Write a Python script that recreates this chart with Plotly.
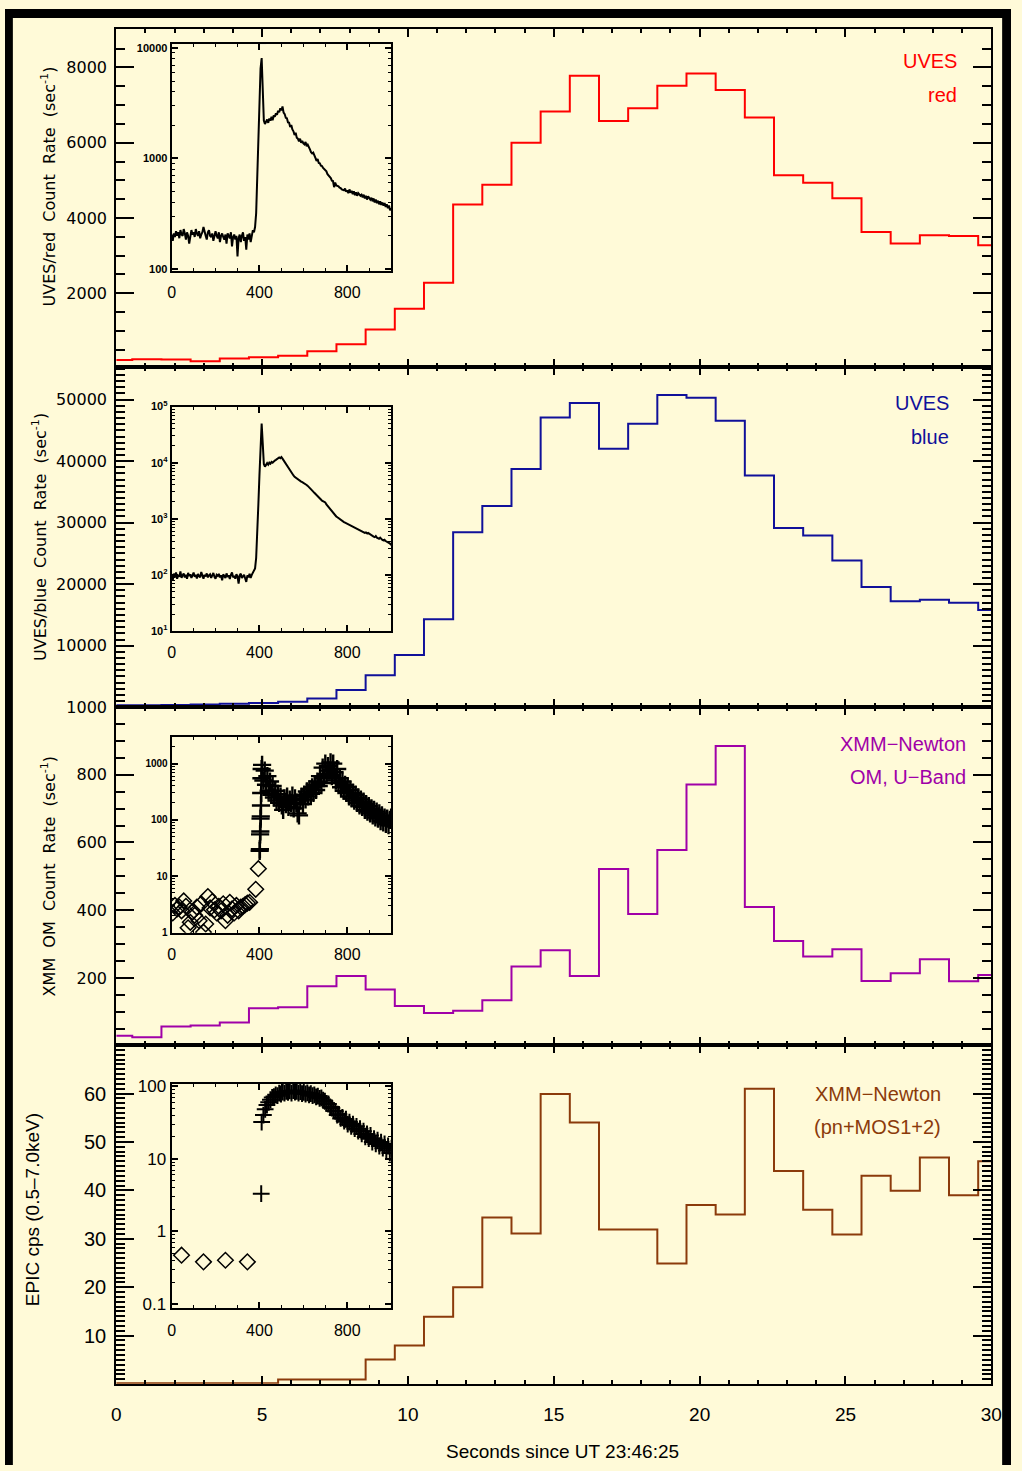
import plotly.graph_objects as go

W, H = 1022, 1471
BG = '#FFFAD8'
NARROW = '"Liberation Sans Narrow", "Arial Narrow", "Liberation Sans", Arial, sans-serif'
DEJAVU = '"DejaVu Sans", Verdana, sans-serif'
HELV = '"Liberation Sans", Arial, sans-serif'

# ---------------- main binned light curves (1 s bins) ----------------
BIN_EDGES = [0.0] + [0.55 + k for k in range(30)] + [30.0]

uves_red = [224, 250, 242, 197, 268, 303, 337, 461, 645, 1040, 1592, 2277, 4355, 4880,
            6000, 6830, 7778, 6575, 6918, 7514, 7838, 7400, 6672, 5137, 4935, 4522,
            3627, 3322, 3540, 3522, 3277]
uves_blue = [300, 320, 350, 420, 550, 700, 900, 1400, 2810, 5178, 8490, 14280, 28430,
             32720, 38720, 47080, 49450, 42000, 46070, 50730, 50300, 46550, 37660,
             29140, 27900, 23830, 19540, 17240, 17450, 16970, 15790]
om_u = [29.5, 24.6, 56.7, 59.6, 68.4, 110.4, 113.4, 175.6, 205.7, 166, 117, 96.7, 103.4,
        133.8, 234, 281.7, 205.7, 521.3, 389, 578, 770.8, 884.7, 409.4, 309, 263.3,
        284.7, 191, 213.6, 255.5, 190.2, 208.6]
epic = [0.15, 0.15, 0.15, 0.15, 0.15, 0.15, 0.96, 0.96, 0.96, 5.05, 7.98, 13.9, 20.0,
        34.4, 31.1, 59.9, 54.0, 31.9, 31.9, 24.9, 37.0, 35.0, 61.0, 44.0, 36.0, 30.9,
        43.0, 39.9, 46.8, 39.0, 46.0]

# ---------------- inset light curves (5 s sampling, 0..1000 s) ----------------
red_inset_base = [205, 180, 210, 195, 220, 200, 215, 190, 225, 205,
                  200, 230, 210, 185, 215, 200, 170, 210, 225, 205,
                  215, 195, 230, 210, 200, 220, 190, 205, 215, 240,
                  210, 200, 185, 215, 225, 200, 195, 210, 180, 205,
                  220, 200, 190, 215, 175, 200, 210, 195, 185, 205,
                  170, 210, 200, 190, 215, 160, 195, 205, 185, 200,
                  130, 190, 205, 175, 200, 215, 180, 195, 150, 205,
                  185, 210, 175, 200, 225, 215]
red_inset_flare = [240, 320, 650, 1500, 3500, 6500, 8100, 4600, 2200, 2050,
                   2150, 2250, 2100, 2300, 2200, 2380, 2220, 2450, 2380, 2560,
                   2480, 2700, 2620, 2850, 2720, 2950, 2600, 2520, 2330, 2310,
                   2120, 2110, 1930, 2010, 1830, 1760, 1630, 1710, 1540, 1510,
                   1430, 1510, 1390, 1440, 1370, 1340, 1410, 1290, 1330, 1240,
                   1210, 1140, 1110, 1130, 1040, 1010, 950, 990, 910, 905,
                   860, 855, 820, 805, 780, 765, 720, 705, 680, 665,
                   630, 625, 550, 605, 570, 565, 560, 545, 540, 525,
                   520, 515, 535, 500, 515, 485, 525, 490, 510, 475,
                   505, 465, 495, 460, 485, 465, 460, 470, 445, 470,
                   435, 460, 425, 455, 435, 425, 440, 410, 435, 400,
                   425, 395, 415, 385, 410, 380, 400, 375, 395, 365,
                   385, 355, 375, 340, 355]
blue_inset_base = [95, 80, 105, 90, 110, 85, 100, 92, 115, 88,
                   98, 105, 90, 100, 85, 108, 95, 102, 88, 96,
                   110, 92, 100, 86, 104, 95, 90, 112, 98, 85,
                   100, 94, 106, 90, 98, 102, 88, 95, 108, 92,
                   85, 100, 96, 104, 90, 98, 80, 102, 95, 88,
                   106, 92, 98, 84, 100, 110, 90, 96, 85, 102,
                   94, 70, 98, 105, 88, 92, 100, 86, 75, 98,
                   90, 104, 88, 100, 110, 120]
blue_inset_flare = [130, 200, 500, 1800, 6000, 25000, 50000, 22000, 9500, 8500,
                    9000, 9800, 9200, 10000, 9600, 10300, 10000, 10600, 10900, 11200,
                    11500, 11800, 12400, 12000, 12600, 11800, 11000, 10200, 9400, 8800,
                    8000, 7400, 6900, 6500, 6200, 5900, 5600, 5400, 5200, 5000,
                    4850, 4700, 4600, 4500, 4400, 4300, 4200, 4000, 3850, 3700,
                    3550, 3400, 3200, 3050, 2900, 2750, 2600, 2500, 2400, 2300,
                    2200, 2100, 2050, 1980, 1950, 1800, 1700, 1580, 1480, 1400,
                    1320, 1250, 1200, 1150, 1100, 1060, 1020, 990, 960, 930,
                    900, 870, 850, 830, 810, 790, 770, 750, 730, 720,
                    700, 690, 670, 660, 640, 630, 610, 600, 590, 580,
                    560, 570, 550, 560, 540, 530, 520, 500, 480, 470,
                    490, 460, 450, 440, 460, 430, 420, 410, 420, 400,
                    390, 380, 370, 360, 340]

# OM inset: pre-flare diamonds, flare pluses
om_dia_t = [5, 15, 25, 35, 45, 55, 65, 75, 85, 95, 105, 115, 125, 135, 145, 155, 165,
            175, 185, 195, 205, 215, 225, 235, 245, 255, 265, 275, 285, 295, 305, 315,
            325, 335, 345, 355, 383, 395]
om_dia_v = [2.2, 3.0, 2.6, 2.8, 2.4, 3.6, 2.9, 1.2, 1.5, 2.3, 2.0, 2.8, 1.6, 3.2, 1.0,
            1.4, 4.3, 2.7, 3.5, 2.5, 2.2, 2.9, 2.4, 3.2, 1.6, 2.0, 3.4, 2.6, 2.2, 3.0,
            2.4, 2.8, 2.9, 3.1, 3.3, 3.4, 5.8, 13.5]
om_rise_t = [401, 402, 403, 404, 405, 406, 407, 408, 409, 410]
om_rise_v = [28, 30, 55, 62, 105, 115, 180, 300, 550, 800]
om_cloud = [950, 500, 750, 420, 600, 330, 480, 280, 400, 250,
            330, 220, 290, 200, 260, 180, 150, 240, 190, 260,
            170, 230, 200, 270, 160, 240, 200, 130, 120, 220,
            260, 190, 280, 230, 320, 260, 350, 290, 380, 300,
            420, 340, 480, 400, 600, 450, 850, 550, 1000, 650,
            900, 750, 1050, 600, 1000, 700, 500, 800, 450, 550,
            380, 480, 330, 420, 300, 380, 260, 340, 240, 300,
            220, 280, 200, 250, 180, 230, 170, 210, 150, 190,
            140, 175, 130, 160, 120, 150, 110, 140, 105, 130,
            95, 120, 90, 110, 85, 105, 80, 100, 110]

# EPIC inset
epic_dia_t = [45, 145, 245, 345]
epic_dia_v = [0.47, 0.38, 0.40, 0.38]
epic_plus = [3.3, 32, 40, 48, 55, 60, 65, 70, 72, 76, 74, 80, 78, 83, 80, 85, 82, 86, 80,
             87, 83, 85, 80, 84, 79, 82, 78, 81, 76, 79, 74, 76, 71, 73, 68, 69, 64, 62,
             58, 57, 52, 50, 46, 45, 40, 41, 36, 37, 33, 35, 30, 32, 28, 30, 26, 28, 24,
             26, 22, 24, 20, 22, 19, 21, 17, 19, 16, 18, 15, 17, 14, 16, 13, 15, 12, 14]
epic_plus_t = [408] + [410 + 8 * i for i in range(len(epic_plus) - 1)]

FLARE_BAND = [395, 431]

# ---------------- helpers (page pixels -> paper fraction) ----------------
def px(x):
    return x / W

def py(y):
    return 1 - y / H

X_MAIN = [px(113), px(1002)]
PANELS = [(20, 362), (362, 705), (705, 1047), (1047, 1389)]
X_INSET = [px(169.3), px(392.3)]
INSETS = [(35.7, 264.3), (401.7, 628.3), (735.7, 933.3), (1085.7, 1312.7)]

COL_RED = '#FF0000'
COL_BLUE = '#10109A'
COL_PURP = '#A000A8'
COL_BROWN = '#8B3A0B'

fig = go.Figure()

series = [(uves_red, COL_RED), (uves_blue, COL_BLUE), (om_u, COL_PURP), (epic, COL_BROWN)]
for i, (vals, col) in enumerate(series):
    n = '' if i == 0 else str(i + 1)
    fig.add_trace(go.Scatter(x=BIN_EDGES, y=vals + [vals[-1]], mode='lines',
                             line=dict(color=col, width=2, shape='hv'),
                             xaxis='x' + n, yaxis='y' + n, showlegend=False))

t5 = [5 * i for i in range(201)]
fig.add_trace(go.Scatter(x=t5, y=red_inset_base + red_inset_flare, mode='lines',
                         line=dict(color='black', width=2), xaxis='x5', yaxis='y5',
                         showlegend=False))
fig.add_trace(go.Scatter(x=t5, y=blue_inset_base + blue_inset_flare, mode='lines',
                         line=dict(color='black', width=2), xaxis='x6', yaxis='y6',
                         showlegend=False))
fig.add_trace(go.Scatter(x=om_dia_t, y=om_dia_v, mode='markers',
                         marker=dict(symbol='diamond-open', size=12, color='black',
                                     line=dict(width=1.5, color='black')),
                         xaxis='x7', yaxis='y7', showlegend=False))
om_cloud_t = [412 + 6 * i for i in range(len(om_cloud))]
fig.add_trace(go.Scatter(x=om_rise_t + om_cloud_t, y=om_rise_v + om_cloud, mode='markers',
                         marker=dict(symbol='cross-thin', size=13, color='black',
                                     line=dict(width=2.4, color='black')),
                         xaxis='x7', yaxis='y7', showlegend=False))
fig.add_trace(go.Scatter(x=epic_dia_t, y=epic_dia_v, mode='markers',
                         marker=dict(symbol='diamond-open', size=12, color='black',
                                     line=dict(width=1.5, color='black')),
                         xaxis='x8', yaxis='y8', showlegend=False))
fig.add_trace(go.Scatter(x=epic_plus_t, y=epic_plus, mode='markers',
                         marker=dict(symbol='cross-thin', size=12, color='black',
                                     line=dict(width=2, color='black')),
                         xaxis='x8', yaxis='y8', showlegend=False))

layout = dict(width=W, height=H, autosize=False,
              margin=dict(l=0, r=0, t=0, b=0, pad=0),
              paper_bgcolor=BG, plot_bgcolor=BG,
              showlegend=False, hovermode=False)

def main_x(i, labels=False):
    d = dict(domain=X_MAIN, range=[0, 30], showline=True, linecolor='black', linewidth=2,
             mirror='ticks', ticks='inside', ticklen=8, tickwidth=1.5, tickcolor='black',
             tick0=0, dtick=5, showgrid=False, zeroline=False,
             minor=dict(ticks='inside', ticklen=4, tickwidth=1.5, tickcolor='black',
                        tick0=0, dtick=1, showgrid=False),
             showticklabels=labels, anchor='y' + ('' if i == 0 else str(i + 1)))
    if labels:
        d['tickfont'] = dict(family=NARROW, size=19, color='black')
        d['ticklabelstandoff'] = 12
        d['ticklabeloverflow'] = 'allow'
    return d

def main_y(i, rng, dtick, mdtick, font):
    top, bot = PANELS[i]
    return dict(domain=[py(bot), py(top)], range=rng, showline=True, linecolor='black',
                linewidth=2, mirror='ticks', ticks='inside', ticklen=18, tickwidth=1.5,
                tickcolor='black', tick0=0, dtick=dtick, showgrid=False, zeroline=False,
                tickformat='d', exponentformat='none',
                minor=dict(ticks='inside', ticklen=9, tickwidth=1.5, tickcolor='black',
                           tick0=0, dtick=mdtick, showgrid=False),
                tickfont=font, ticklabelstandoff=4,
                anchor='x' + ('' if i == 0 else str(i + 1)))

DJ = dict(family=DEJAVU, size=16, color='black')
NR = dict(family=NARROW, size=20, color='black')

layout['xaxis'] = main_x(0)
layout['xaxis2'] = main_x(1)
layout['xaxis3'] = main_x(2)
layout['xaxis4'] = main_x(3, labels=True)
layout['yaxis'] = main_y(0, [33, 9026], 2000, 500, DJ)
layout['yaxis2'] = main_y(1, [60, 55250], 10000, 1000, DJ)
layout['yaxis3'] = main_y(2, [1, 1000.5], 200, 50, DJ)
layout['yaxis4'] = main_y(3, [0.05, 69.95], 10, 1, NR)

def inset_x(k):
    return dict(domain=X_INSET, range=[0, 1000], showline=True, linecolor='black',
                linewidth=2, mirror='ticks', ticks='inside', ticklen=6, tickwidth=1.5,
                tickcolor='black', tick0=0, dtick=400, showgrid=False, zeroline=False,
                minor=dict(ticks='inside', ticklen=3, tickwidth=1.2, tickcolor='black',
                           tick0=0, dtick=100, showgrid=False),
                tickfont=dict(family=NARROW, size=16, color='black'),
                ticklabelstandoff=6, anchor='y' + str(k))

def minor_log(decades):
    out = []
    for d in decades:
        for m in range(2, 10):
            out.append(m * d)
    return out

def inset_y(k, idx, rng, tv, tt, mtv, font):
    top, bot = INSETS[idx]
    return dict(domain=[py(bot), py(top)], type='log', range=rng, showline=True,
                linecolor='black', linewidth=2, mirror='ticks', ticks='inside', ticklen=6,
                tickwidth=1.5, tickcolor='black', tickmode='array', tickvals=tv,
                ticktext=tt, showgrid=False, zeroline=False,
                minor=dict(ticks='inside', ticklen=3, tickwidth=1.2, tickcolor='black',
                           tickmode='array', tickvals=mtv, showgrid=False),
                tickfont=font, anchor='x' + str(k))

SMALLB = dict(family=HELV, size=11, color='black', weight='bold')
SMALLB10 = dict(family=HELV, size=10, color='black', weight='bold')

for k in range(5, 9):
    layout['xaxis' + str(k)] = inset_x(k)
layout['yaxis5'] = inset_y(5, 0, [1.986, 4.032], [100, 1000, 10000], ['100', '1000', '10000'],
                           minor_log([100, 1000]), SMALLB)
layout['yaxis6'] = inset_y(6, 1, [1, 5], [10, 100, 1000, 10000, 100000],
                           ['10<sup>1</sup>', '10<sup>2</sup>', '10<sup>3</sup>',
                            '10<sup>4</sup>', '10<sup>5</sup>'],
                           minor_log([10, 100, 1000, 10000]), SMALLB)
layout['yaxis7'] = inset_y(7, 2, [-0.01, 3.47], [1, 10, 100, 1000], ['1', '10', '100', '1000'],
                           minor_log([1, 10, 100, 1000]), SMALLB10)
layout['yaxis8'] = inset_y(8, 3, [-1.06, 2.035], [0.1, 1, 10, 100], ['0.1', '1', '10', '100'],
                           minor_log([0.1, 1, 10]), dict(family=NARROW, size=17, color='black'))

shapes = []
for k in range(5, 9):
    shapes.append(dict(type='rect', xref='x' + str(k), yref='y' + str(k) + ' domain',
                       x0=FLARE_BAND[0], x1=FLARE_BAND[1], y0=0, y1=1,
                       fillcolor='#D9D9D9', line=dict(width=0), layer='below'))
# black frame of the page
shapes += [
    dict(type='rect', xref='paper', yref='paper', x0=0, x1=1, y0=py(9), y1=1,
         fillcolor='black', line=dict(width=0), layer='above'),
    dict(type='rect', xref='paper', yref='paper', x0=0, x1=px(8), y0=0, y1=1,
         fillcolor='black', line=dict(width=0), layer='above'),
    dict(type='rect', xref='paper', yref='paper', x0=px(1013), x1=1, y0=0, y1=1,
         fillcolor='black', line=dict(width=0), layer='above'),
]
layout['shapes'] = shapes

ann = []
def note(text, x, y, font, xanchor='center', angle=0):
    ann.append(dict(text=text, x=px(x), y=py(y), xref='paper', yref='paper',
                    xanchor=xanchor, yanchor='middle', showarrow=False,
                    textangle=angle, font=font))

LEG = 20
note('UVES', 969, 53, dict(family=NARROW, size=LEG, color=COL_RED), 'right')
note('red', 969, 87, dict(family=NARROW, size=LEG, color=COL_RED), 'right')
note('UVES', 961, 398, dict(family=NARROW, size=LEG, color=COL_BLUE), 'right')
note('blue', 961, 432, dict(family=NARROW, size=LEG, color=COL_BLUE), 'right')
note('XMM\u2212Newton', 978, 743, dict(family=NARROW, size=LEG, color=COL_PURP), 'right')
note('OM, U\u2212Band', 978, 776, dict(family=NARROW, size=LEG, color=COL_PURP), 'right')
note('XMM\u2212Newton', 953, 1096, dict(family=NARROW, size=LEG, color=COL_BROWN), 'right')
note('(pn+MOS1+2)', 953, 1130, dict(family=NARROW, size=LEG, color=COL_BROWN), 'right')

SP = '\u00a0'
TF = dict(family=DEJAVU, size=16, color='black')
note('UVES/red' + SP + ' Count' + SP + ' Rate' + SP + ' (sec<sup>-1</sup>)', 44, 179, TF, angle=-90)
note('UVES/blue' + SP + ' Count' + SP + ' Rate' + SP + ' (sec<sup>-1</sup>)', 35, 533, TF, angle=-90)
note('XMM' + SP + ' OM' + SP + ' Count' + SP + ' Rate' + SP + ' (sec<sup>-1</sup>)', 44, 876, TF, angle=-90)
note('EPIC cps (0.5\u20137.0keV)', 28, 1213, dict(family=NARROW, size=19, color='black'),
     angle=-90)
note('Seconds since UT 23:46:25', 566, 1457, dict(family=NARROW, size=19, color='black'))
layout['annotations'] = ann

fig.update_layout(**layout)
fig.write_html('out.html',
               post_script="document.body.style.background='black';"
                           "document.documentElement.style.background='black';")
